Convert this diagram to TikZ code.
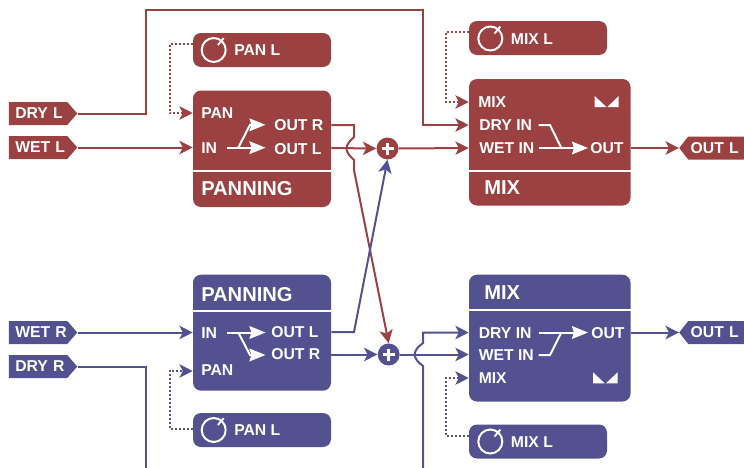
\documentclass[tikz,border=0pt]{standalone}
\usepackage{fontspec}
\setmainfont{Liberation Sans}
\usetikzlibrary{arrows.meta,calc,shapes.symbols}
\definecolor{ChanRed}{HTML}{9C4141}
\definecolor{ChanBlue}{HTML}{545190}
\def\px{0.75pt}
\tikzset{
  blockbox/.style={rounded corners=6pt,fill=#1,inner sep=0pt},
  knobbox/.style={rounded corners=6pt,fill=#1,inner sep=0pt,minimum width=138*\px,minimum height=34*\px},
  tagright/.style={signal,signal to=east,signal pointer angle=98,fill=#1,text=white,font=\bfseries\fontsize{11.8}{12}\selectfont,
    inner xsep=6.5*\px,inner ysep=0pt,minimum height=23*\px,text width=45.5*\px,align=left,anchor=west},
  tagleft/.style={signal,signal to=west,signal pointer angle=104,fill=#1,text=white,font=\bfseries\fontsize{11.8}{12}\selectfont,
    inner xsep=2.5*\px,inner ysep=0pt,minimum height=23*\px,text width=53*\px,align=left,anchor=east},
  porttext/.style={text=white,font=\bfseries\fontsize{11.8}{12}\selectfont,inner sep=0pt,anchor=west,yshift=-0.4pt},
  titletext/.style={text=white,font=\bfseries\fontsize{15.1}{15}\selectfont,inner sep=0pt,anchor=west,yshift=-0.4pt},
  knobdial/.style={circle,draw=white,line width=1.5pt,minimum size=24*\px,inner sep=0pt},
  plusnode/.style={circle,fill=#1,minimum size=22*\px,inner sep=0pt},
  sigline/.style={draw=#1,line width=1.5pt,-{Stealth[length=10pt,width=10pt,inset=2.6pt]}},
  plainline/.style={draw=#1,line width=1.5pt},
  ctlline/.style={draw=#1,line width=1.5pt,dash pattern=on 1.5pt off 1.5pt,-{Stealth[length=10pt,width=10pt,inset=2.6pt]}},
  innerline/.style={draw=white,line width=1.5pt,-{Stealth[length=12pt,width=9.5pt,inset=1.5pt]}},
  innerplain/.style={draw=white,line width=1.5pt},
  divline/.style={draw=white,line width=1.6pt},
  plusbar/.style={draw=white,line width=2.2pt},
  tickline/.style={draw=white,line width=1.4pt}
}
\begin{document}
\begin{tikzpicture}[x=0.75pt,y=-0.75pt]
    \useasboundingbox (0,0) rectangle (744,468);
    % left channel
    \node[blockbox=ChanRed,minimum width=138*\px,minimum height=116.5*\px] (panBoxL) at (262,148.75) {};
    \node[blockbox=ChanRed,minimum width=161.5*\px,minimum height=126.5*\px] (mixBoxL) at (549.75,142.25) {};
    \node[knobbox=ChanRed] (panKnobL) at (262,50) {};
    \node[knobbox=ChanRed] (mixKnobL) at (538,38) {};
    \node[knobdial] (panDialL) at (213.7,50) {};
    \node[knobdial] (mixDialL) at (490.3,38.5) {};
    \node[porttext] (panKnobTextL) at (234,50) {PAN L};
    \node[porttext] (mixKnobTextL) at (510.7,38.5) {MIX L};
    \node[tagright=ChanRed] (tagDryL) at (8.5,113.5) {DRY~L};
    \node[tagright=ChanRed] (tagWetL) at (8.5,147.5) {WET~L};
    \node[tagleft=ChanRed] (tagOutL) at (746.5,148) {OUT~L};
    \node[plusnode=ChanRed] (plusL) at (387.5,148.5) {};
    \node[porttext] (panPanL) at (201,113) {PAN};
    \node[porttext] (panInL) at (201,147.5) {IN};
    \node[porttext] (panOutRL) at (274,125) {OUT R};
    \node[porttext] (panOutLL) at (274,149) {OUT L};
    \node[titletext] (panTitleL) at (201,188) {PANNING};
    \node[porttext] (mixMixL) at (478,102) {MIX};
    \node[porttext] (mixDryL) at (479,125) {DRY IN};
    \node[porttext] (mixWetL) at (479,148) {WET IN};
    \node[porttext] (mixOutL) at (590,148) {OUT};
    \node[titletext] (mixTitleL) at (484,187.5) {MIX};
    % right channel
    \node[blockbox=ChanBlue,minimum width=138*\px,minimum height=116*\px] (panBoxR) at (262,332.7) {};
    \node[blockbox=ChanBlue,minimum width=161.5*\px,minimum height=126.8*\px] (mixBoxR) at (549.75,338.1) {};
    \node[knobbox=ChanBlue] (panKnobR) at (262,430) {};
    \node[knobbox=ChanBlue] (mixKnobR) at (538,441.5) {};
    \node[knobdial] (panDialR) at (213.7,430) {};
    \node[knobdial] (mixDialR) at (490.3,441.5) {};
    \node[porttext] (panKnobTextR) at (234,430) {PAN L};
    \node[porttext] (mixKnobTextR) at (510.7,441.5) {MIX L};
    \node[tagright=ChanBlue] (tagWetR) at (8.5,332.5) {WET~R};
    \node[tagright=ChanBlue] (tagDryR) at (8.5,366.5) {DRY~R};
    \node[tagleft=ChanBlue] (tagOutR) at (746.5,332.5) {OUT~L};
    \node[plusnode=ChanBlue] (plusR) at (388.7,354.5) {};
    \node[titletext] (panTitleR) at (201,294) {PANNING};
    \node[porttext] (panInR) at (201,332.5) {IN};
    \node[porttext] (panOutLR) at (271,332) {OUT L};
    \node[porttext] (panOutRR) at (271,354) {OUT R};
    \node[porttext] (panPanR) at (201,370) {PAN};
    \node[titletext] (mixTitleR) at (484,292) {MIX};
    \node[porttext] (mixDryR) at (478.5,332.5) {DRY IN};
    \node[porttext] (mixWetR) at (478.5,354.5) {WET IN};
    \node[porttext] (mixMixR) at (478.5,378) {MIX};
    \node[porttext] (mixOutR) at (591,332.5) {OUT};
    % dividers
    \draw[divline] (panBoxL.west |- 0,171) -- (panBoxL.east |- 0,171);
    \draw[divline] (mixBoxL.west |- 0,171) -- (mixBoxL.east |- 0,171);
    \draw[divline] (panBoxR.west |- 0,310.7) -- (panBoxR.east |- 0,310.7);
    \draw[divline] (mixBoxR.west |- 0,310) -- (mixBoxR.east |- 0,310);
    % knob ticks
    \foreach \dial in {panDialL,mixDialL,panDialR,mixDialR}
      \draw[tickline] ($(\dial)!0.5!(\dial.50)$) -- ($(\dial)!1.2!(\dial.50)$);
    % plus signs
    \foreach \sum in {plusL,plusR} {
      \draw[plusbar] ($(\sum)+(-6,0)$) -- ($(\sum)+(6,0)$);
      \draw[plusbar] ($(\sum)+(0,-6)$) -- ($(\sum)+(0,6)$);
    }
    % mode icons
    \fill[white] (594.7,96) -- (594.7,107) -- (606.4,107) -- cycle;
    \fill[white] (618.7,96) -- (618.7,107) -- (607.4,107) -- cycle;
    \fill[white] (593,372.3) -- (593,383.3) -- (604.7,383.3) -- cycle;
    \fill[white] (617.7,372.3) -- (617.7,383.3) -- (606,383.3) -- cycle;
    % signal lines left
    \draw[sigline=ChanRed] (tagDryL.east) -| (146,10) -- (423,10) |- (mixBoxL.west |- 0,125);
    \draw[sigline=ChanRed] (tagWetL.east) -- (panBoxL.west |- tagWetL.east);
    \draw[ctlline=ChanRed] (panKnobL.west |- 0,44) -| (169.5,113) -- (panBoxL.west |- 0,113);
    \draw[ctlline=ChanRed] (mixKnobL.west |- 0,32) -| (446,102) -- (mixBoxL.west |- 0,102);
    \draw[sigline=ChanRed] (panBoxL.east |- 0,148) -- (plusL.west);
    \draw[sigline=ChanRed] (plusL.east) -- (mixBoxL.west |- 0,148);
    \draw[sigline=ChanRed] (mixBoxL.east |- 0,148) -- (tagOutL.west);
    % signal lines right
    \draw[sigline=ChanBlue] (tagWetR.east) -- (panBoxR.west |- tagWetR.east);
    \draw[ctlline=ChanBlue] (panKnobR.west |- 0,429) -| (169.5,371) -- (panBoxR.west |- 0,371);
    \draw[ctlline=ChanBlue] (mixKnobR.west |- 0,436) -| (446,378) -- (mixBoxR.west |- 0,378);
    \draw[sigline=ChanBlue] (panBoxR.east |- 0,354.5) -- (plusR.west);
    \draw[sigline=ChanBlue] (plusR.east) -- (mixBoxR.west |- 0,354.5);
    \draw[sigline=ChanBlue] (mixBoxR.east |- 0,332.5) -- (tagOutR.west);
    \draw[plainline=ChanBlue] (tagDryR.east) -| (146,468);
    \draw[sigline=ChanBlue] (423,468) -- (423,366) .. controls (412,358) and (412,351) .. (423,343) |- (mixBoxR.west |- 0,332.5);
    % crossing lines
    \draw[sigline=ChanRed] (panBoxL.east |- 0,125) -- (354,125) -- (354,137) .. controls (344,146) and (344,151) .. (354,160) -- (354,170) -- (plusR.north);
    \draw[sigline=ChanBlue] (panBoxR.east |- 0,332) -- (354,332) -- (plusL.south);
    % inner paths
    \draw[innerline] (227,147.7) -- (265.5,147.7);
    \draw[innerline] (238.3,147.7) -- (250,124.8) -- (265.5,124.8);
    \draw[innerline] (538.7,148) -- (588,148);
    \draw[innerplain] (538.7,125) -- (550,125) -- (561.3,148);
    \draw[innerline] (227,332.5) -- (265.5,332.5);
    \draw[innerline] (238.3,332.5) -- (250,355) -- (265.5,355);
    \draw[innerline] (538.7,332.5) -- (588,332.5);
    \draw[innerplain] (538.7,355) -- (550,355) -- (561.3,332.5);
\end{tikzpicture}
\end{document}
